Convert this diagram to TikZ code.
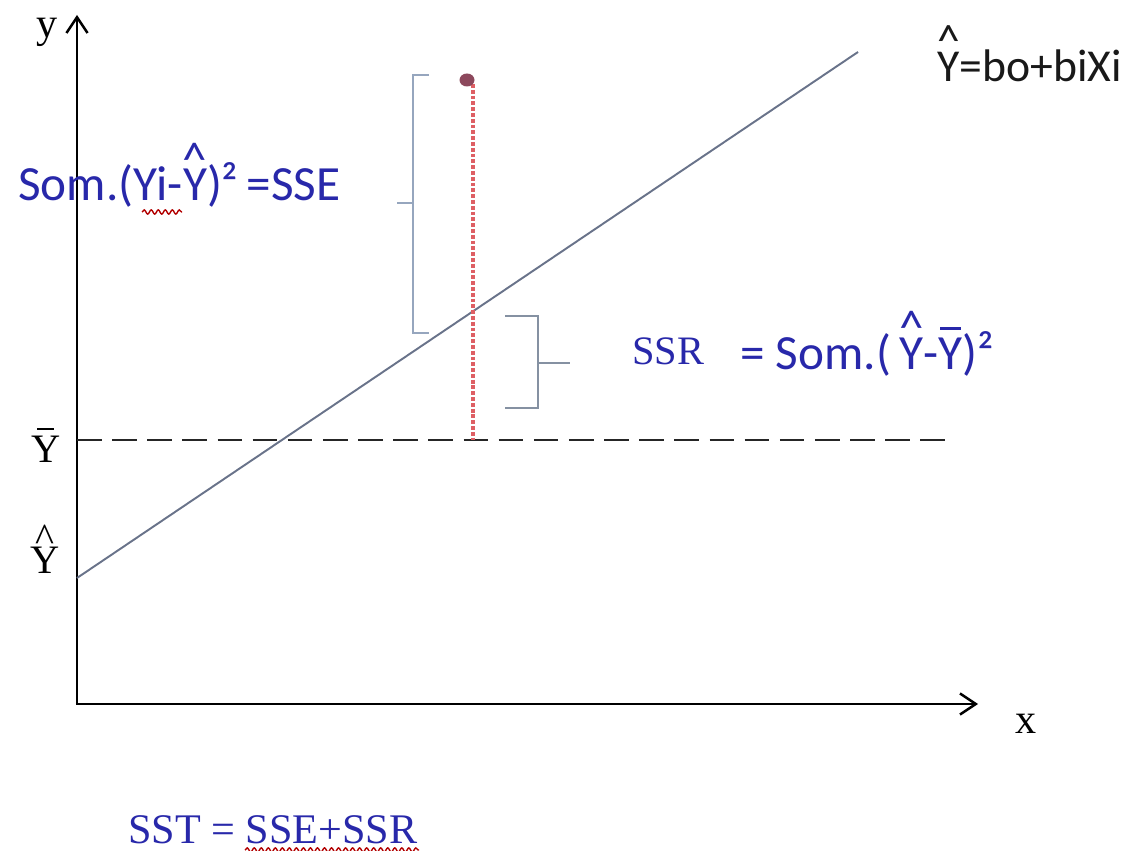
\documentclass[tikz,border=0pt]{standalone}
\usepackage{fontspec}
\setmainfont{Carlito}
\newfontfamily\serifA{Liberation Serif}
\usetikzlibrary{arrows.meta,decorations.pathmorphing}
\definecolor{txtblue}{RGB}{40,40,170}
\definecolor{brk}{RGB}{150,166,190}
\definecolor{regl}{RGB}{105,115,138}
\definecolor{reddash}{RGB}{222,95,100}
\definecolor{dotc}{RGB}{140,72,92}
\newcommand\hatY[1][0.5em]{\ooalign{Y\cr\hidewidth\raisebox{#1}{\textasciicircum}\hidewidth\cr}}
\newcommand\barY{\ooalign{Y\cr\hidewidth\rule[0.8em]{0.42em}{0.05em}\hidewidth\cr}}
\tikzset{
  axis/.style={line width=1.4pt,black,-{Straight Barb[length=9pt,width=12pt,line width=1.4pt]}},
  lbl/.style={inner sep=0pt,anchor=base west,font=\fontsize{28}{32}\selectfont},
  bluelbl/.style={lbl,text=txtblue},
  seriflbl/.style={inner sep=0pt,anchor=base west,font=\serifA\fontsize{24}{28}\selectfont},
  brace/.style={line width=1.6pt,brk},
  wavy/.style={red!70!black,line width=0.8pt,decorate,decoration={snake,amplitude=1.2pt,segment length=4pt}}
}
\begin{document}
\begin{tikzpicture}[x=0.02cm,y=-0.02cm]
\useasboundingbox (0,0) rectangle (1136,851);
% axes
\coordinate (O) at (77,704);
\coordinate (ytip) at (77,15);
\coordinate (xtip) at (978,704);
\draw[axis] (O) -- (ytip);
\draw[axis] ([xshift=-0.7pt]O) -- (xtip);
\node[seriflbl,text=black] (ylab) at (36,38) {y};
\node[seriflbl,text=black] (xlab) at (1015,733) {x};
% mean line
\coordinate (m0) at (77,440);
\coordinate (m1) at (950,440);
\draw[line width=1.1pt,black!85,dash pattern=on 14pt off 6pt] (m0) -- (m1);
\node[seriflbl,font=\serifA\fontsize{23}{28}\selectfont] (ybar) at (31,462) {\barY};
% regression line
\coordinate (r0) at (77,578);
\coordinate (r1) at (858,52);
\draw[regl,line width=1.1pt] (r0) -- (r1);
\node[seriflbl,font=\serifA\fontsize{23}{28}\selectfont] (yhat) at (30,573) {\hatY[0.52em]};
% data point and residual
\coordinate (foot) at (473,440);
\draw[reddash,line width=2pt,dash pattern=on 2.2pt off 1.1pt] (473,84) -- (foot);
\fill[dotc] (467,80) ellipse [x radius=7.5,y radius=6.5];
\coordinate (pt) at (467,80);
% SSE bracket
\coordinate (b1) at (429,75);
\coordinate (b2) at (413,75);
\coordinate (b3) at (413,333);
\coordinate (b4) at (429,333);
\draw[brace] (b1) -- (b2) -- (b3) -- (b4);
\draw[brace] (413,203) -- (397,203);
% SSR brace
\coordinate (c1) at (505,316);
\coordinate (c2) at (538,316);
\coordinate (c3) at (538,408);
\coordinate (c4) at (505,408);
\draw[brace,color=brk!80!black!90] (c1) -- (c2) -- (c3) -- (c4);
\draw[brace,color=brk!80!black!90] (538,363) -- (570,363);
% texts
\node[lbl,text=black!90,font=\fontsize{26}{30}\selectfont] (eqn) at (937,82) {\hatY[0.55em]=bo+biXi};
\node[bluelbl] (sse) at (18,201) {Som.(Yi-\hatY)²\,=SSE};
\draw[wavy] (142,212) -- (182,212);
\node[seriflbl,text=txtblue,font=\serifA\fontsize{23}{28}\selectfont] (ssr) at (632,364) {SSR};
\node[bluelbl] (ssreq) at (740,369) {= Som.(\,\hatY-\barY)²};
\node[seriflbl,text=txtblue] (sst) at (128,843) {SST = SSE+SSR};
\draw[wavy] (245,850) -- (419,850);
\end{tikzpicture}
\end{document}
